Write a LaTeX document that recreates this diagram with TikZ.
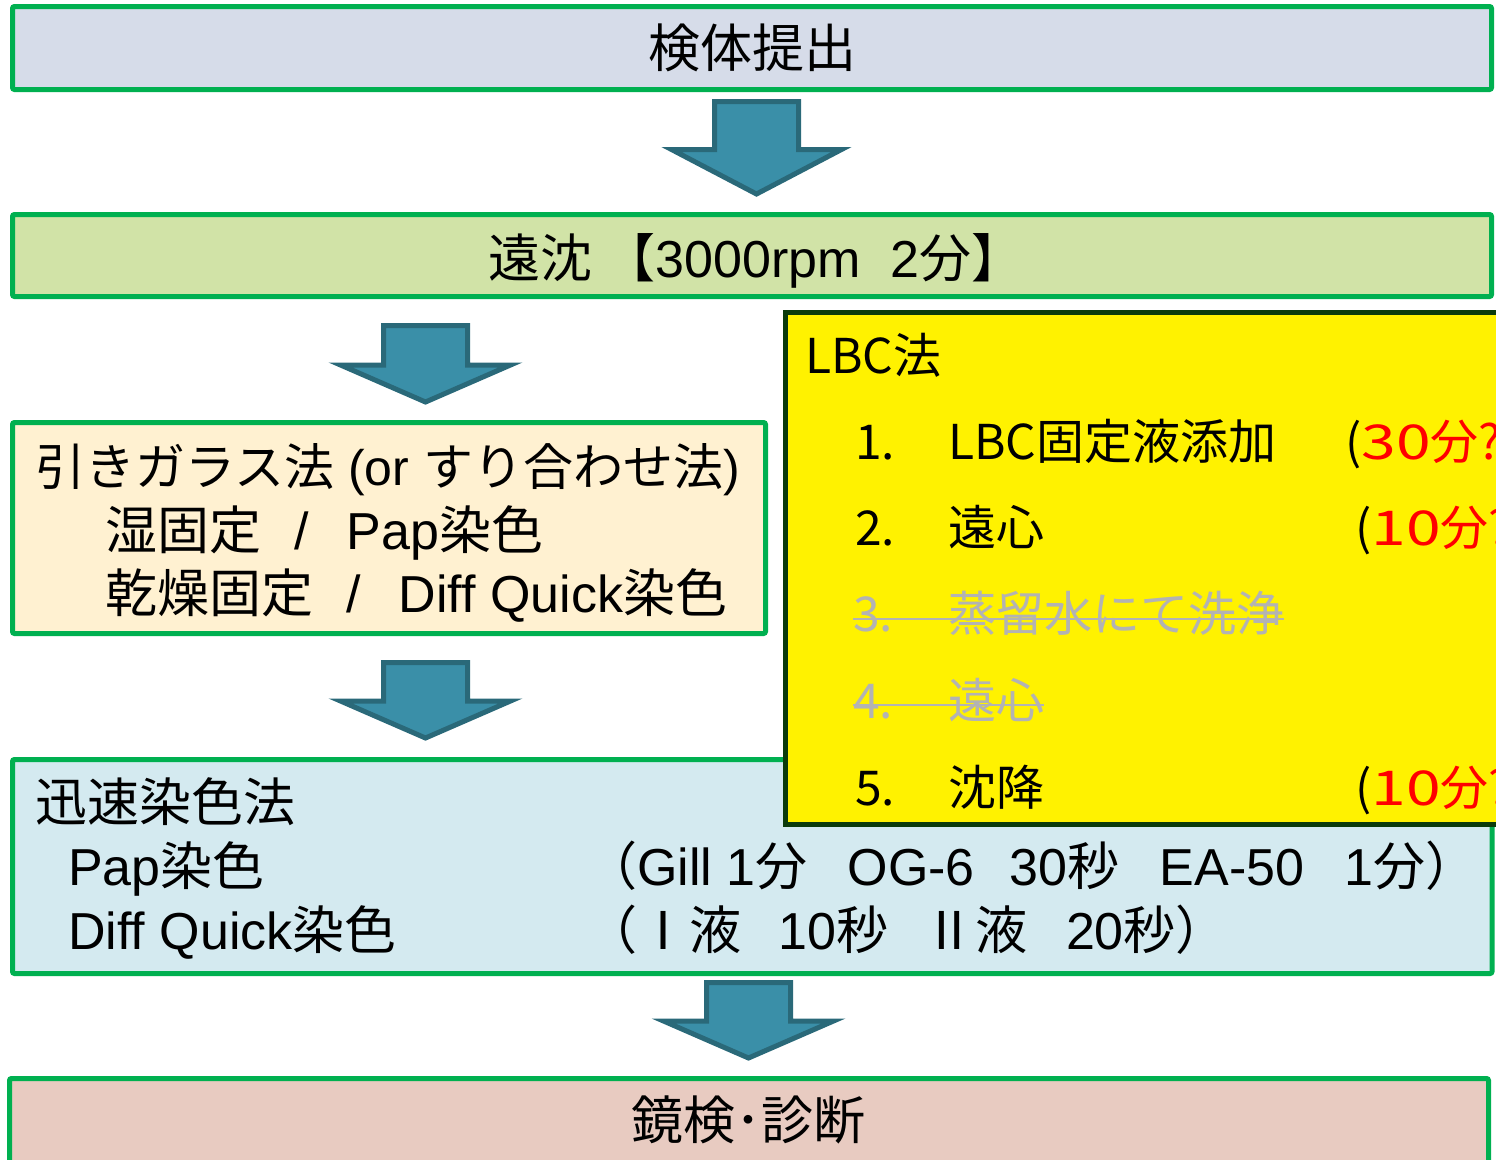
\documentclass[tikz,border=0pt]{standalone}
\usepackage{fontspec}
\usepackage{graphicx}
\setmainfont{Liberation Sans}
\newfontfamily\jp{Noto Sans CJK JP}
\newcommand\J[1]{{\jp #1}}
\newcommand\wide[1]{\scalebox{1.3}[1]{#1}}
\definecolor{boxgreen}{HTML}{00B050}
\definecolor{fillA}{HTML}{D6DCE9}
\definecolor{fillB}{HTML}{D1E3A7}
\definecolor{fillC}{HTML}{FFF1D1}
\definecolor{fillD}{HTML}{D4EAF0}
\definecolor{fillE}{HTML}{E8CBC1}
\definecolor{arrowfill}{HTML}{3A8FA8}
\definecolor{arrowline}{HTML}{2A6979}
\definecolor{lbcline}{HTML}{0B3B0B}
\definecolor{strikegray}{HTML}{B3B3B3}
\newcommand\flowarrowshape[4]{% cx, top, shoulder, tip
  \draw[flowarrow] ({#1-42},#2) -- ({#1+42},#2) -- ({#1+42},#3) -- ({#1+85},#3)
    -- (#1,#4) -- ({#1-85},#3) -- ({#1-42},#3) -- cycle;}
\begin{document}
\begin{tikzpicture}[x=1pt,y=-1pt,
  box/.style={draw=boxgreen, line width=5pt, rounded corners=2pt, inner sep=0pt},
  txt/.style={inner sep=0pt, font=\fontsize{52}{62}\selectfont, anchor=base west},
  ctxt/.style={inner sep=0pt, font=\fontsize{52}{62}\selectfont, anchor=base},
  lbc/.style={inner sep=0pt, font=\jp\fontsize{48}{58}\selectfont, anchor=base west},
  flowarrow/.style={fill=arrowfill, draw=arrowline, line width=5pt, line join=miter},
  strike/.style={draw=strikegray, line width=2pt}]
\useasboundingbox (0,0) rectangle (1496,1159);
\clip (0,0) rectangle (1496,1159);

% boxes
\node[box, fill=fillA, minimum width=1479pt, minimum height=83pt] (b1) at (752,48) {};
\node[box, fill=fillB, minimum width=1479pt, minimum height=82pt] (b2) at (752,255.5) {};
\node[box, fill=fillC, minimum width=753pt, minimum height=211pt] (b3) at (389,528) {};
\node[box, fill=fillD, minimum width=1479.5pt, minimum height=214pt] (b4) at (752.25,866.5) {};
\node[draw=lbcline, fill=yellow, line width=5pt, inner sep=0pt, minimum width=734.5pt, minimum height=512pt] (lbcbox) at (1152.75,568.5) {};
\node[box, fill=fillE, minimum width=1479pt, minimum height=96pt] (b5) at (749,1126.5) {};

% block arrows
\flowarrowshape{756.5}{101.5}{149.5}{194}
\flowarrowshape{425.5}{325.5}{365}{402}
\flowarrowshape{425.5}{662.5}{701}{738}
\flowarrowshape{748.5}{982.5}{1021}{1058}

% texts
\node[ctxt] (t1) at (752,67) {\J{検体提出}};
\node[ctxt] (t2) at (756,277) {\J{遠沈 【}3000rpm\hspace{30pt}2\J{分】}};

\node[txt, font=\fontsize{50}{60}\selectfont] (t3a) at (35,485) {\J{引きガラス法} (or \J{すり合わせ法})};
\node[txt] (t3b) at (105,549) {\J{湿固定}\hspace{33pt}/\hspace{38pt}Pap\J{染色}};
\node[txt] (t3c) at (105,612) {\J{乾燥固定}\hspace{33pt}/\hspace{38pt}Diff Quick\J{染色}};

\node[txt] (t4a) at (35,821) {\J{迅速染色法}};
\node[txt] (t4b) at (68,885) {Pap\J{染色}};
\node[txt] (t4c) at (68,949) {Diff Quick\J{染色}};
\node[txt] (t4d) at (585,885) {\J{（}Gill 1\J{分}\hspace{40pt}OG-6\hspace{35pt}30\J{秒}\hspace{40pt}EA-50\hspace{40pt}1\J{分）}};
\node[txt] (t4e) at (585,949) {\J{（Ⅰ液}\hspace{37pt}10\J{秒}\hspace{35pt}\J{Ⅱ液}\hspace{39pt}20\J{秒）}};

\node[ctxt] (t5) at (748,1139) {\J{鏡検･診断}};

% LBC box content
\node[lbc] (l0) at (805,373) {LBC法};
\node[lbc] (n1) at (855,459) {1.};
\node[lbc] (s1) at (948,459) {LBC固定液添加};
\node[lbc] (p1) at (1345,459) {(\textcolor{red}{\wide{30}分?}};
\node[lbc] (n2) at (855,545) {2.};
\node[lbc] (s2) at (948,545) {遠心};
\node[lbc] (p2) at (1355,545) {(\textcolor{red}{\wide{10}分?}};
\node[lbc, text=strikegray] (n3) at (853,631) {3.};
\node[lbc, text=strikegray] (s3) at (948,631) {蒸留水にて洗浄};
\node[lbc, text=strikegray] (n4) at (853,718) {4.};
\node[lbc, text=strikegray] (s4) at (948,718) {遠心};
\node[lbc] (n5) at (855,805) {5.};
\node[lbc] (s5) at (948,805) {沈降};
\node[lbc] (p5) at (1355,805) {(\textcolor{red}{\wide{10}分?}};

\draw[strike] (n3.base west |- 0,619) -- (s3.base east |- 0,619);
\draw[strike] (n4.base west |- 0,705) -- (s4.base east |- 0,705);
\end{tikzpicture}
\end{document}
